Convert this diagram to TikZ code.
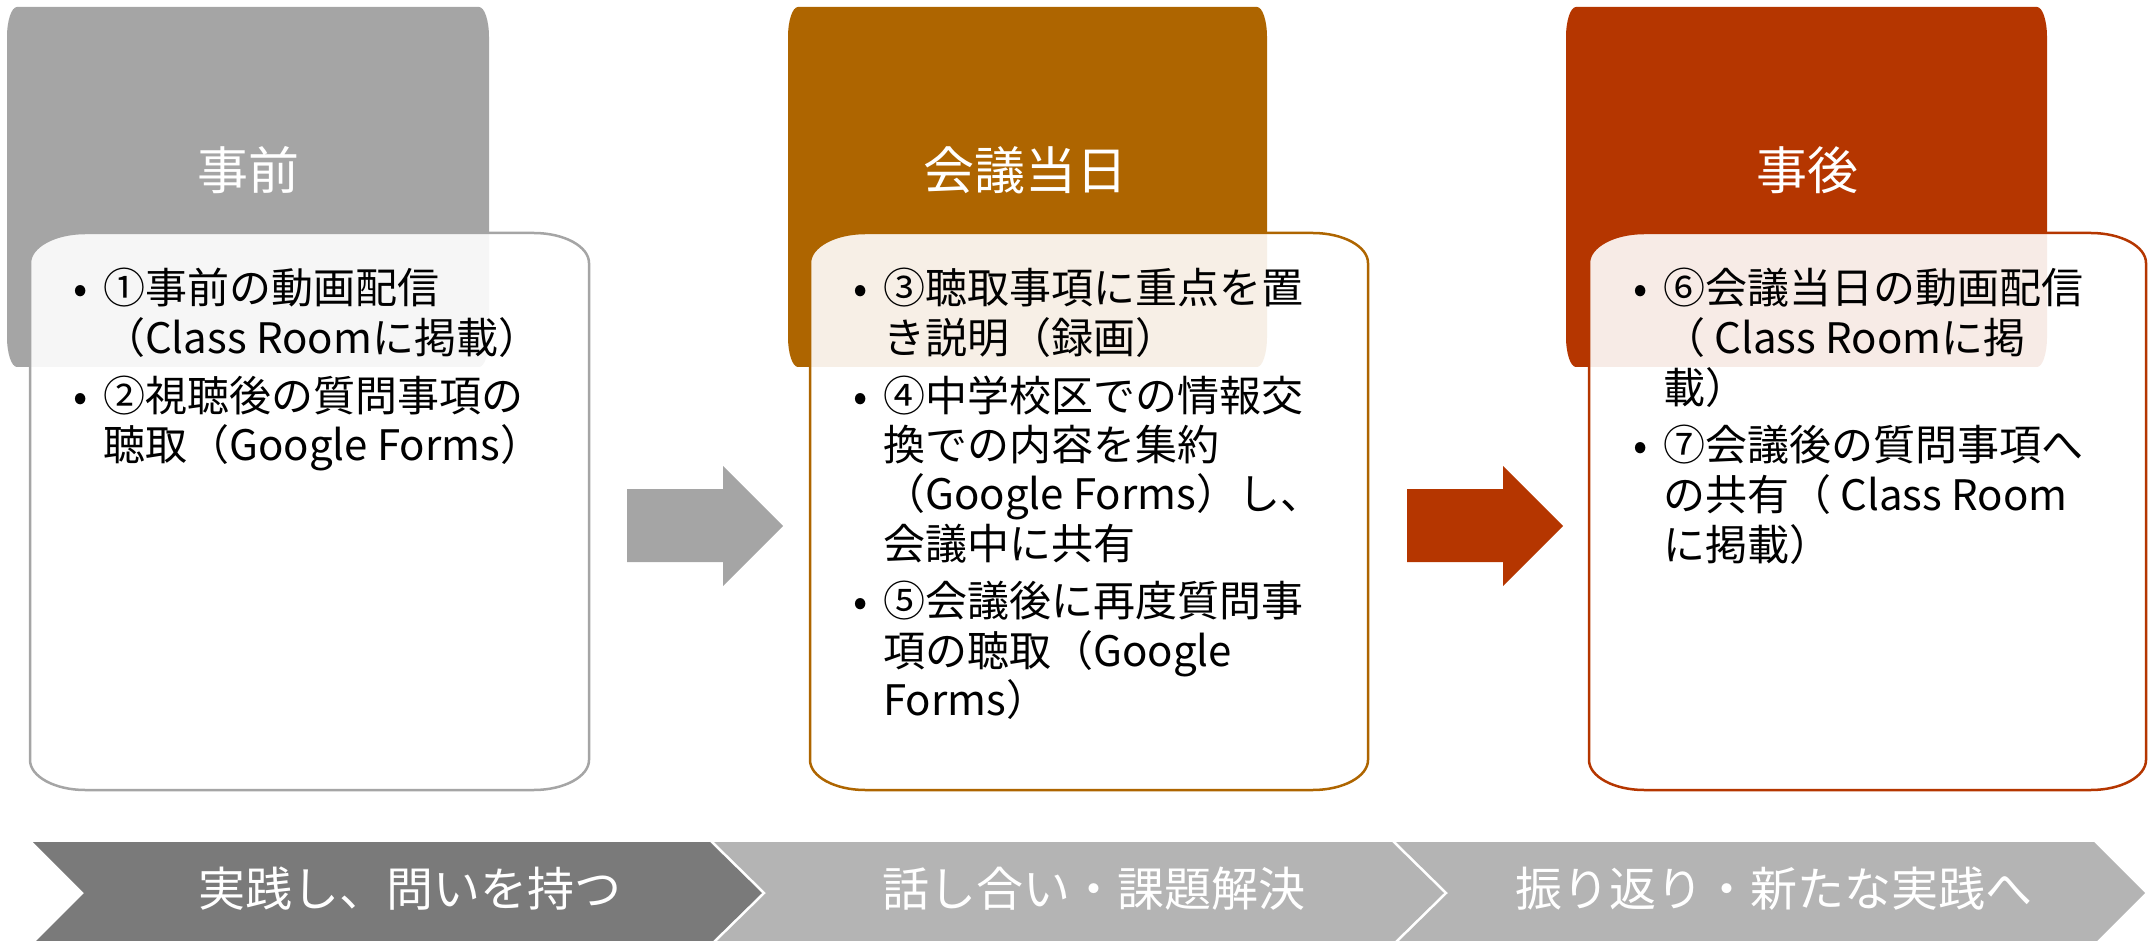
\documentclass[tikz,border=0pt]{standalone}
\usepackage{fontspec}
\setmainfont{Noto Sans CJK JP}
\usepackage{tikz}
\usetikzlibrary{positioning}
\definecolor{tabgray}{HTML}{A5A5A5}
\definecolor{taborange}{HTML}{AE6500}
\definecolor{tabred}{HTML}{B53600}
\definecolor{chevdark}{HTML}{7A7A7A}
\definecolor{chevlight}{HTML}{B4B4B4}

% rounded box with elliptic corners: x1 y1 x2 y2 rx ry
\newcommand{\softrect}[6]{(#1,#2+#6) .. controls (#1,#2+0.45*#6) and (#1+0.45*#5,#2) .. (#1+#5,#2)
  -- (#3-#5,#2) .. controls (#3-0.45*#5,#2) and (#3,#2+0.45*#6) .. (#3,#2+#6)
  -- (#3,#4-#6) .. controls (#3,#4-0.45*#6) and (#3-0.45*#5,#4) .. (#3-#5,#4)
  -- (#1+#5,#4) .. controls (#1+0.45*#5,#4) and (#1,#4-0.45*#6) .. (#1,#4-#6) -- cycle}
\newcommand{\bul}{\makebox[30pt][l]{•}}
\newcommand{\itemlist}[1]{\begin{tabular}[t]{@{}l@{}l@{}}#1\end{tabular}}

\begin{document}
\begin{tikzpicture}[x=1pt,y=-1pt,
    tabbox/.style={fill=#1},
    card/.style={draw=#1,line width=2.5pt,fill=white,fill opacity=0.9},
    phasehead/.style={text=white,inner sep=0pt,font=\fontsize{51}{56}\selectfont},
    listtext/.style={anchor=base west,inner sep=0pt,font=\fontsize{42}{46}\selectfont},
    chevlabel/.style={text=white,inner sep=0pt,font=\fontsize{47}{52}\selectfont}]
            \useasboundingbox (0,0) rectangle (2148,941);

            \fill[tabbox=tabgray] \softrect{7}{7}{489}{367}{10}{30};
            \fill[tabbox=taborange] \softrect{788}{7}{1267}{367}{10}{30};
            \fill[tabbox=tabred] \softrect{1566}{7}{2047}{367}{10}{30};

            \node[phasehead] (prehead) at (248,170) {事前};
            \node[phasehead] (dayhead) at (1025,170) {会議当日};
            \node[phasehead] (posthead) at (1807,170) {事後};

            \path[card=tabgray] \softrect{30}{233}{589}{790}{55}{30};
            \path[card=taborange] \softrect{810}{233}{1368}{790}{55}{30};
            \path[card=tabred] \softrect{1589}{233}{2146}{790}{55}{30};

            \node[listtext] (prelist) at (73,304) {\itemlist{%
              \bul & ①事前の動画配信\\
                   & （Class Roomに掲載）\\[8pt]
              \bul & ②視聴後の質問事項の\\
                   & 聴取（Google Forms）}};
            \node[listtext] (daylist) at (853,304) {\itemlist{%
              \bul & ③聴取事項に重点を置\\
                   & き説明（録画）\\[8pt]
              \bul & ④中学校区での情報交\\
                   & 換での内容を集約\\
                   & （Google Forms）し、\\
                   & 会議中に共有\\[8pt]
              \bul & ⑤会議後に再度質問事\\
                   & 項の聴取（Google\\
                   & Forms）}};
            \node[listtext] (postlist) at (1633,304) {\itemlist{%
              \bul & ⑥会議当日の動画配信\\
                   & （ Class Roomに掲\\
                   & 載）\\[8pt]
              \bul & ⑦会議後の質問事項へ\\
                   & の共有（ Class Room\\
                   & に掲載）}};

            \fill[tabgray] (627,489) -- (723,489) -- (723,466) -- (783,526) -- (723,586) -- (723,562) -- (627,562) -- cycle;
            \fill[tabred] (1407,489) -- (1503,489) -- (1503,466) -- (1563,526) -- (1503,586) -- (1503,562) -- (1407,562) -- cycle;

            \fill[chevdark] (33,842) -- (710,842) -- (762,893) -- (710,944) -- (33,944) -- (84,893) -- cycle;
            \fill[chevlight] (714,842) -- (1392,842) -- (1444,893) -- (1392,944) -- (714,944) -- (766,893) -- cycle;
            \fill[chevlight] (1396,842) -- (2094,842) -- (2145,893) -- (2094,944) -- (1396,944) -- (1448,893) -- cycle;

            \node[chevlabel] (practice) at (410,889) {実践し、問いを持つ};
            \node[chevlabel] (discuss) at (1094,889) {話し合い・課題解決};
            \node[chevlabel] (reflect) at (1774,889) {振り返り・新たな実践へ};
        \end{tikzpicture}
\end{document}
